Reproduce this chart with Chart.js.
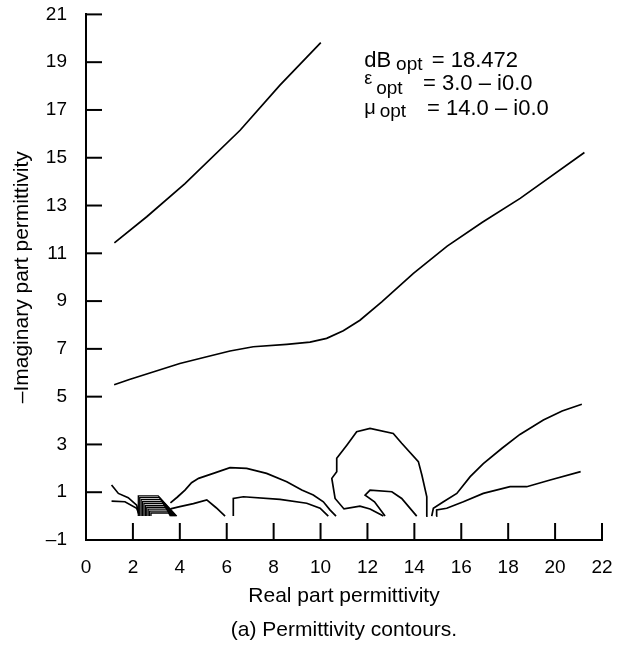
<!DOCTYPE html>
<html>
  <head>
    <title>Permittivity contours</title>
    <meta charset="UTF-8">
    <style>
      body {
        margin: 0;
        background: #fff;
      }
      #wrap {
        width: 634px;
        height: 651px;
      }
    </style>
  </head>
  <body>
    <div id="wrap">
      <canvas id="canvas" width="634" height="651"></canvas>
    </div>
    <script src="https://cdn.jsdelivr.net/npm/chart.js@4.4.1/dist/chart.umd.min.js"></script>
    <script>
    // axis ticks
    var xTicks = [0, 2, 4, 6, 8, 10, 12, 14, 16, 18, 20, 22];
    var yTicks = [-1, 1, 3, 5, 7, 9, 11, 13, 15, 17, 19, 21];

    // contour lines (x = real part, y = -imaginary part)
    var topX = [1.21, 2.59, 4.22, 6.57, 8.27, 10.01];
    var topY = [11.44, 12.53, 13.92, 16.15, 18.04, 19.82];

    var midX = [1.2, 1.85, 4.0, 5.15, 6.14, 7.13, 8.56, 9.55, 10.26, 10.97, 11.68, 12.61, 13.96, 15.4, 16.9, 18.51, 21.25];
    var midY = [5.5, 5.72, 6.39, 6.67, 6.91, 7.09, 7.19, 7.28, 7.44, 7.76, 8.2, 8.97, 10.16, 11.3, 12.3, 13.3, 15.22];

    var leftUpX = [1.09, 1.38, 1.8, 2.16, 2.25];
    var leftUpY = [1.3, 0.95, 0.77, 0.46, 0.1];
    var leftLowX = [1.09, 1.66, 2.16, 2.25];
    var leftLowY = [0.63, 0.6, 0.33, 0.1];

    var arcX = [3.6, 3.9, 4.22, 4.5, 4.8, 5.43, 6.14, 6.85, 7.7, 8.56, 9.2, 9.69, 10.12, 10.4, 10.66];
    var arcY = [0.55, 0.8, 1.09, 1.4, 1.58, 1.79, 2.03, 2.0, 1.79, 1.44, 1.09, 0.88, 0.6, 0.26, 0];

    var bumpX = [3.6, 4.0, 4.58, 5.15, 5.55, 5.93];
    var bumpY = [0.3, 0.4, 0.52, 0.68, 0.35, 0];

    var shelfX = [6.28, 6.28, 6.71, 8.27, 9.41, 9.98, 10.33];
    var shelfY = [0, 0.74, 0.81, 0.7, 0.54, 0.33, 0];

    var loopX = [14.5, 14.53, 14.32, 14.17, 13.46, 13.1, 12.11, 11.54, 11.12, 10.69, 10.69, 10.48, 10.62, 11.0, 11.68, 12.11, 12.68];
    var loopY = [0, 0.81, 1.72, 2.28, 3.05, 3.46, 3.67, 3.53, 2.97, 2.42, 1.86, 1.58, 0.74, 0.3, 0.42, 0.3, 0];

    var hookX = [12.75, 12.3, 11.9, 12.11, 13.04, 13.46, 14.1];
    var hookY = [0, 0.6, 0.88, 1.09, 1.02, 0.74, 0];

    var rightUpX = [14.74, 14.81, 15.24, 15.81, 16.38, 16.94, 17.75, 18.5, 19.5, 20.3, 21.14];
    var rightUpY = [0, 0.33, 0.6, 0.95, 1.65, 2.2, 2.85, 3.42, 4.02, 4.4, 4.68];

    var rightLowX = [14.93, 14.95, 15.38, 16.09, 16.94, 18.08, 18.79, 19.79, 21.09];
    var rightLowY = [0, 0.26, 0.33, 0.6, 0.95, 1.23, 1.23, 1.51, 1.86];

    // the dense nest of small contours near (3, 0.5)
    var nestX = [
      [2.23, 2.23, 3.08, 3.87],
      [2.29, 2.29, 3.13, 3.84],
      [2.35, 2.35, 3.18, 3.81],
      [2.41, 2.41, 3.23, 3.78],
      [2.47, 2.47, 3.28, 3.75],
      [2.53, 2.53, 3.33, 3.72],
      [2.59, 2.59, 3.38, 3.69],
      [2.65, 2.65, 3.43, 3.66],
      [2.71, 2.71, 3.48, 3.63],
      [2.77, 2.77, 3.52, 3.6]
    ];
    var nestY = [
      [0, 0.85, 0.85, 0],
      [0, 0.77, 0.77, 0],
      [0, 0.69, 0.69, 0],
      [0, 0.61, 0.61, 0],
      [0, 0.53, 0.53, 0],
      [0, 0.45, 0.45, 0],
      [0, 0.37, 0.37, 0],
      [0, 0.29, 0.29, 0],
      [0, 0.21, 0.21, 0],
      [0, 0.13, 0.13, 0]
    ];

    // optimum values written in the upper right corner
    var optSymbols = ['dB', '\u03b5', '\u03bc'];
    var optValues = ['= 18.472', '= 3.0 \u2013 i0.0', '= 14.0 \u2013 i0.0'];

    function toPoints(xs, ys) {
        return xs.map(function (x, i) {
            return {x: x, y: ys[i]};
        });
    }

    function line(xs, ys, width) {
        return {
            data: toPoints(xs, ys),
            showLine: true,
            borderColor: '#000',
            borderWidth: width || 1.7,
            pointRadius: 0,
            tension: 0,
            fill: false
        };
    }

    var datasets = [
        line(topX, topY),
        line(midX, midY),
        line(leftUpX, leftUpY),
        line(leftLowX, leftLowY),
        line(arcX, arcY),
        line(bumpX, bumpY),
        line(shelfX, shelfY),
        line(loopX, loopY),
        line(hookX, hookY),
        line(rightUpX, rightUpY),
        line(rightLowX, rightLowY)
    ];
    for (var i = 0; i < nestX.length; i++) {
        datasets.push(line(nestX[i], nestY[i], 1.3));
    }

    // ticks in the original point into the plot
    var innerTicks = {
        id: 'innerTicks',
        afterDraw: function (chart) {
            var ctx = chart.ctx;
            var xs = chart.scales.x, ys = chart.scales.y;
            ctx.save();
            ctx.strokeStyle = '#000';
            ctx.lineWidth = 2;
            xTicks.forEach(function (v) {
                var px = xs.getPixelForValue(v);
                ctx.beginPath();
                ctx.moveTo(px, ys.bottom);
                ctx.lineTo(px, ys.bottom - 17);
                ctx.stroke();
            });
            yTicks.forEach(function (v) {
                var py = ys.getPixelForValue(v);
                ctx.beginPath();
                ctx.moveTo(xs.left, py);
                ctx.lineTo(xs.left + 16, py);
                ctx.stroke();
            });
            ctx.restore();
        }
    };

    var optLabel = {
        id: 'optLabel',
        afterDraw: function (chart) {
            var ctx = chart.ctx;
            var xs = chart.scales.x, ys = chart.scales.y;
            var fam = '"Liberation Sans", Arial, sans-serif';
            // anchor of each row in data units: baseline, "=" position
            var rowY = [18.8, 17.83, 16.78];
            var eqX = [14.74, 14.37, 14.54];
            var symSize = [22, 18, 20];
            var symShift = [0, -6, -1];
            var subShift = [3, 4, 2];
            var x0 = xs.getPixelForValue(11.86);
            ctx.save();
            ctx.fillStyle = '#000';
            ctx.textBaseline = 'alphabetic';
            ctx.textAlign = 'left';
            for (var r = 0; r < 3; r++) {
                var by = ys.getPixelForValue(rowY[r]);
                ctx.font = symSize[r] + 'px ' + fam;
                ctx.fillText(optSymbols[r], x0, by + symShift[r]);
                var w = ctx.measureText(optSymbols[r]).width;
                ctx.font = '19px ' + fam;
                ctx.fillText('opt', x0 + w + (r === 0 ? 5 : 4), by + subShift[r]);
                ctx.font = '22px ' + fam;
                ctx.fillText(optValues[r], xs.getPixelForValue(eqX[r]), by);
            }
            ctx.restore();
        }
    };

    Chart.defaults.font.family = '"Liberation Sans", Arial, Helvetica, sans-serif';
    Chart.defaults.color = '#000';

    function signed(v) {
        return v < 0 ? '\u2013' + Math.abs(v) : String(v);
    }

    var ctx = document.getElementById('canvas').getContext('2d');
    var chart = new Chart(ctx, {
        type: 'scatter',
        data: {datasets: datasets},
        plugins: [innerTicks, optLabel],
        options: {
            responsive: false,
            animation: false,
            devicePixelRatio: 1,
            layout: {padding: {left: 0, right: 32, top: 0, bottom: 0}},
            plugins: {
                legend: {display: false},
                tooltip: {enabled: false}
            },
            scales: {
                x: {
                    type: 'linear',
                    min: 0,
                    max: 22,
                    afterFit: function (s) { s.height = 111; },
                    afterBuildTicks: function (s) {
                        s.ticks = xTicks.map(function (v) { return {value: v}; });
                    },
                    ticks: {font: {size: 19}, padding: 16, maxRotation: 0, callback: signed},
                    grid: {display: true, drawOnChartArea: false, drawTicks: false},
                    border: {display: true, color: '#000', width: 2},
                    title: {
                        display: true,
                        // axis name, then the figure caption below it
                        text: ['Real part permittivity', '(a) Permittivity contours.'],
                        font: {size: 21, lineHeight: 1.62},
                        padding: {top: 4, bottom: 4}
                    }
                },
                y: {
                    type: 'linear',
                    min: -1,
                    max: 21,
                    afterFit: function (s) { s.width = 86; },
                    afterBuildTicks: function (s) {
                        s.ticks = yTicks.map(function (v) { return {value: v}; });
                    },
                    // a hidden outer tick keeps the labels clear of the axis
                    ticks: {font: {size: 19}, padding: 3, callback: signed},
                    grid: {
                        display: true,
                        drawOnChartArea: false,
                        drawTicks: true,
                        tickLength: 16,
                        tickColor: 'rgba(0,0,0,0)'
                    },
                    border: {display: true, color: '#000', width: 2},
                    title: {
                        display: true,
                        text: '\u2013Imaginary part permittivity',
                        font: {size: 21},
                        padding: {top: 10, bottom: 4}
                    }
                }
            }
        }
    });
    </script>
  </body>
</html>
